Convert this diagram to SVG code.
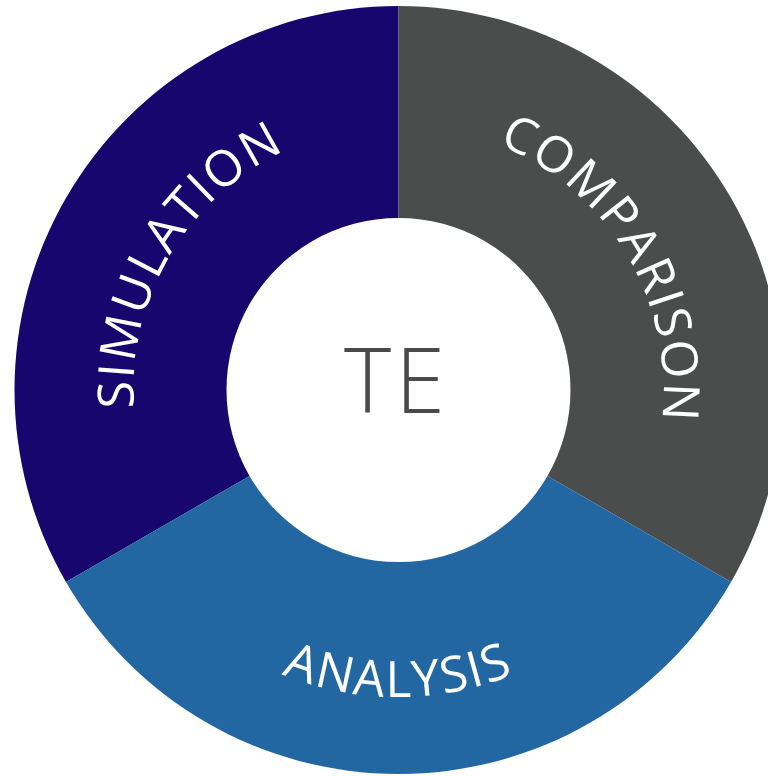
<svg xmlns="http://www.w3.org/2000/svg" xmlns:xlink="http://www.w3.org/1999/xlink" width="768" height="776" viewBox="0 0 768 776">
  <style>
    .label { font-family: "Open Sans", "Noto Sans", "Liberation Sans", sans-serif; font-size: 50px; fill: #ffffff; }
    .ring { letter-spacing: 2px; }
    .bottom { letter-spacing: 2px; }
    .center { font-family: "Open Sans", "Noto Sans", "Liberation Sans", sans-serif; font-size: 90px; font-weight: 300; fill: #4a4a4a; letter-spacing: 4px; }
  </style>
  <defs>
    <path id="arcSim" d="M 167.86 520.49 A 265 265 0 0 1 400.81 125.01" fill="none"/>
    <path id="arcCmp" d="M 396.19 125.01 A 265 265 0 0 1 629.14 520.49" fill="none"/>
    <path id="arcAna" d="M 132.63 543.5 A 307 307 0 0 0 664.37 543.5" fill="none"/>
  </defs>
  <rect width="768" height="776" fill="#ffffff"/>
  <g id="simulation">
    <path d="M 65.95 582 A 384 384 0 0 1 398.5 6 L 398.5 218 A 172 172 0 0 0 249.54 476 Z" fill="#17066d"/>
    <text class="label ring" text-anchor="middle"><textPath xlink:href="#arcSim" href="#arcSim" startOffset="50%">SIMULATION</textPath></text>
  </g>
  <g id="comparison">
    <path d="M 398.5 6 A 384 384 0 0 1 731.05 582 L 547.46 476 A 172 172 0 0 0 398.5 218 Z" fill="#4b4d4c"/>
    <text class="label ring" text-anchor="middle"><textPath xlink:href="#arcCmp" href="#arcCmp" startOffset="50%">COMPARISON</textPath></text>
  </g>
  <g id="analysis">
    <path d="M 731.05 582 A 384 384 0 0 1 65.95 582 L 249.54 476 A 172 172 0 0 0 547.46 476 Z" fill="#2267a2"/>
    <text class="label bottom" text-anchor="middle"><textPath xlink:href="#arcAna" href="#arcAna" startOffset="50%">ANALYSIS</textPath></text>
  </g>
  <g id="te">
    <text class="center" x="396.5" y="413" text-anchor="middle">TE</text>
  </g>
  <g id="connectors"/>
</svg>
